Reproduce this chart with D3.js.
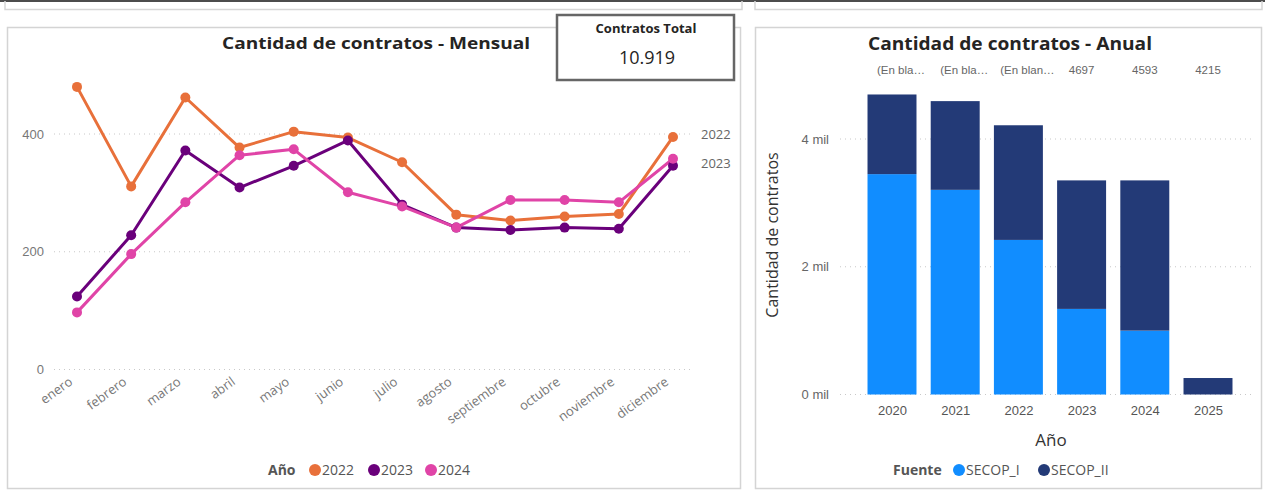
<!DOCTYPE html>
<html>
<head>
<meta charset="utf-8">
<script src="https://cdn.jsdelivr.net/npm/d3@7"></script>
<style>
  html, body { margin: 0; padding: 0; background: #fff; }
  svg { display: block; font-family: "Segoe UI", "Open Sans", "Noto Sans", sans-serif; }
</style>
</head>
<body>
<svg id="dash" width="1265" height="492"></svg>
<script>
// ---- Monthly contracts (line chart) ----
const months = ["enero", "febrero", "marzo", "abril", "mayo", "junio", "julio",
                "agosto", "septiembre", "octubre", "noviembre", "diciembre"];
const years = ["2022", "2023", "2024"];
const values2022 = [480, 311, 462, 377, 404, 394, 352, 263, 253, 260, 264, 395];
const values2023 = [124, 228, 372, 309, 346, 389, 280, 241, 237, 241, 239, 346];
const values2024 = [97, 196, 284, 364, 374, 301, 277, 241, 288, 288, 284, 358];
const yearColors = ["#E8703A", "#6A007B", "#E044A7"];
const monthlyTicks = [0, 200, 400];
const endLabels = ["2022", "2023"];

// ---- Annual contracts (stacked columns) ----
const annualYears = ["2020", "2021", "2022", "2023", "2024", "2025"];
const secopI  = [3450, 3204, 2420, 1340, 1000, 0];
const secopII = [1247, 1389, 1795, 2012, 2352, 258];
const sources = ["SECOP_I", "SECOP_II"];
const sourceColors = ["#118DFF", "#233A77"];
const annualTicks = [0, 2000, 4000];
const topLabels = ["(En bla…", "(En bla…", "(En blan…", "4697", "4593", "4215"];

const svg = d3.select("#dash");

// outer frame pieces
svg.append("line").attr("x1", 0).attr("x2", 1265).attr("y1", 1).attr("y2", 1)
  .attr("stroke", "#111").attr("stroke-width", 1.5);
[[5, 742], [755, 1262]].forEach(([a, b]) => {
  svg.append("path").attr("d", `M${a},1 V9.5 H${b} V1`)
    .attr("fill", "none").attr("stroke", "#d6d6d6").attr("stroke-width", 1.5);
});

// panels
svg.append("rect").attr("x", 7.5).attr("y", 27.5).attr("width", 733).attr("height", 461)
  .attr("fill", "#fff").attr("stroke", "#d4d4d4").attr("stroke-width", 1.5);
svg.append("rect").attr("x", 755.5).attr("y", 27.5).attr("width", 506).attr("height", 461)
  .attr("fill", "#fff").attr("stroke", "#d4d4d4").attr("stroke-width", 1.5);

// ================= Monthly line chart =================
const series = [values2022, values2023, values2024];
const x = d3.scalePoint().domain(months).range([77, 673]);
const y = d3.scaleLinear().domain([0, 400]).range([369.5, 134]);

const gL = svg.append("g");
gL.append("text").attr("x", 376).attr("y", 49).attr("text-anchor", "middle")
  .attr("font-size", 16).attr("font-weight", 700).attr("fill", "#252423")
  .attr("textLength", 308).attr("lengthAdjust", "spacingAndGlyphs")
  .text("Cantidad de contratos - Mensual");

// grid + y ticks
const yAxisL = d3.axisLeft(y).tickValues(monthlyTicks).tickSize(0).tickPadding(0);
const yg = gL.append("g").attr("transform", "translate(44,0)").call(yAxisL);
yg.select(".domain").remove();
yg.selectAll("text").attr("font-size", 13).attr("fill", "#777").attr("font-family", null);
gL.selectAll(".gridL").data(monthlyTicks).join("line")
  .attr("x1", 54).attr("x2", 693).attr("y1", d => y(d)).attr("y2", d => y(d))
  .attr("stroke", "#c8c8c8").attr("stroke-width", 1).attr("stroke-dasharray", "1,4");

// x labels (rotated)
gL.selectAll(".mLabel").data(months).join("text")
  .attr("transform", d => `translate(${x(d) - 9},376) rotate(-36)`)
  .attr("text-anchor", "end").attr("dy", "0.72em")
  .attr("font-size", 13).attr("fill", "#777").text(d => d);

// lines
const line = d3.line().x((d, i) => x(months[i])).y(d => y(d));
series.forEach((vals, k) => {
  gL.append("path").datum(vals).attr("d", line).attr("fill", "none")
    .attr("stroke", yearColors[k]).attr("stroke-width", 3).attr("stroke-linejoin", "round");
});
series.forEach((vals, k) => {
  gL.selectAll(null).data(vals).join("circle")
    .attr("cx", (d, i) => x(months[i])).attr("cy", d => y(d)).attr("r", 5)
    .attr("fill", yearColors[k]);
});

// end-of-line labels
endLabels.forEach((lab, k) => {
  const v = series[k][series[k].length - 1];
  gL.append("text").attr("x", 701).attr("y", y(v) - 2.5).attr("dy", "0.35em")
    .attr("font-size", 13).attr("fill", "#666").text(lab);
});

// legend
const legL = gL.append("g").attr("transform", "translate(268,470)");
legL.append("text").attr("x", 0).attr("dy", "0.35em").attr("font-size", 14)
  .attr("font-weight", 700).attr("fill", "#555").text("Año");
const legPos = [47, 106, 163];
years.forEach((yr, k) => {
  legL.append("circle").attr("cx", legPos[k]).attr("cy", 0).attr("r", 6).attr("fill", yearColors[k]);
  legL.append("text").attr("x", legPos[k] + 7).attr("dy", "0.35em").attr("font-size", 14)
    .attr("fill", "#555").text(yr);
});

// KPI card
const total = d3.sum(series.flat());
const card = svg.append("g");
card.append("rect").attr("x", 557).attr("y", 15).attr("width", 177).attr("height", 65)
  .attr("fill", "#fff").attr("stroke", "#666").attr("stroke-width", 2.5);
card.append("text").attr("x", 646).attr("y", 28).attr("dy", "0.35em").attr("text-anchor", "middle")
  .attr("font-size", 13).attr("font-weight", 700).attr("fill", "#252423").text("Contratos Total");
card.append("text").attr("x", 647).attr("y", 58).attr("dy", "0.35em").attr("text-anchor", "middle")
  .attr("font-size", 18).attr("fill", "#252423")
  .text(d3.formatLocale({ decimal: ",", thousands: ".", grouping: [3], currency: ["", ""] }).format(",")(total));

// ================= Annual stacked columns =================
const rows = annualYears.map((yr, i) => ({ year: yr, SECOP_I: secopI[i], SECOP_II: secopII[i] }));
const stack = d3.stack().keys(sources)(rows);
const xb = d3.scalePoint().domain(annualYears).range([892, 1208]);
const bw = xb.step() * 0.775;
const yb = d3.scaleLinear().domain([0, 4000]).range([394.5, 139]);

const gR = svg.append("g");
gR.append("text").attr("x", 1010).attr("y", 50).attr("text-anchor", "middle")
  .attr("font-size", 17).attr("font-weight", 700).attr("fill", "#252423")
  .attr("textLength", 284).attr("lengthAdjust", "spacingAndGlyphs")
  .text("Cantidad de contratos - Anual");

gR.selectAll(".topLab").data(topLabels).join("text")
  .attr("x", (d, i) => xb(annualYears[i]) + (i < 3 ? 9 : 0)).attr("y", 70).attr("dy", "0.35em")
  .attr("text-anchor", "middle").attr("font-size", 11.5).attr("fill", "#666")
  .attr("font-family", "Liberation Sans, Arial, sans-serif").text(d => d);

gR.selectAll(".gridR").data(annualTicks).join("line")
  .attr("x1", 840).attr("x2", 1255).attr("y1", d => yb(d)).attr("y2", d => yb(d))
  .attr("stroke", "#c8c8c8").attr("stroke-width", 1).attr("stroke-dasharray", "1,4");

const yAxisR = d3.axisLeft(yb).tickValues(annualTicks).tickSize(0).tickPadding(0)
  .tickFormat(d => `${d / 1000} mil`);
const ygr = gR.append("g").attr("transform", "translate(829,0)").call(yAxisR);
ygr.select(".domain").remove();
ygr.selectAll("text").attr("font-size", 13).attr("fill", "#666").attr("font-family", null);

gR.append("text").attr("transform", "translate(772,235) rotate(-90)").attr("text-anchor", "middle")
  .attr("dy", "0.35em").attr("font-size", 16).attr("fill", "#333").text("Cantidad de contratos");

stack.forEach((layer, k) => {
  gR.selectAll(null).data(layer).join("rect")
    .attr("x", d => xb(d.data.year) - bw / 2).attr("width", bw)
    .attr("y", d => yb(d[1])).attr("height", d => yb(d[0]) - yb(d[1]))
    .attr("fill", sourceColors[k]);
});

const xAxisR = d3.axisBottom(xb).tickSize(0).tickPadding(0);
const xgr = gR.append("g").attr("transform", "translate(0,410)").call(xAxisR);
xgr.select(".domain").remove();
xgr.selectAll("text").attr("font-size", 13).attr("fill", "#555").attr("dy", "0.35em")
  .attr("font-family", null);

gR.append("text").attr("x", 1051).attr("y", 440).attr("dy", "0.35em").attr("text-anchor", "middle")
  .attr("font-size", 17).attr("fill", "#333").text("Año");

const legR = gR.append("g").attr("transform", "translate(893,470)");
legR.append("text").attr("dy", "0.35em").attr("font-size", 14).attr("font-weight", 700)
  .attr("fill", "#555").text("Fuente");
const legRPos = [66, 151];
sources.forEach((s, k) => {
  legR.append("circle").attr("cx", legRPos[k]).attr("cy", 0).attr("r", 6).attr("fill", sourceColors[k]);
  legR.append("text").attr("x", legRPos[k] + 7).attr("dy", "0.35em").attr("font-size", 14)
    .attr("fill", "#555").text(s);
});
</script>
</body>
</html>
